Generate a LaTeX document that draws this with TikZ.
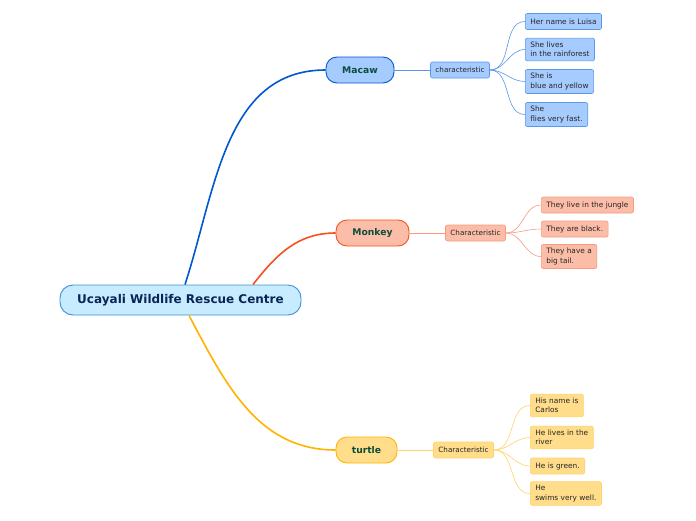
\documentclass[tikz,border=0pt]{standalone}
\usepackage{fontspec}
\setmainfont{DejaVu Sans}

\definecolor{rootfill}{HTML}{C8ECFF}
\definecolor{rootline}{HTML}{3D8FD6}
\definecolor{roottext}{HTML}{0A2456}
\definecolor{topictext}{HTML}{0B4D3C}
\definecolor{bluefill}{HTML}{A6CBFF}
\definecolor{blueline}{HTML}{0057D0}
\definecolor{bluethin}{HTML}{5A97E6}
\definecolor{redfill}{HTML}{FBBDA8}
\definecolor{redline}{HTML}{F4511E}
\definecolor{redthin}{HTML}{F79A80}
\definecolor{yelfill}{HTML}{FFDD8A}
\definecolor{yelline}{HTML}{FFB300}
\definecolor{yelthin}{HTML}{FFD36A}

\begin{document}
\begin{tikzpicture}[x=1pt,y=-1pt,
	root/.style={draw=rootline,fill=rootfill,text=roottext,line width=0.9pt,rounded corners=13pt,
		minimum width=241pt,minimum height=30pt,font=\fontsize{12}{14}\selectfont\bfseries},
	topic/.style={line width=0.9pt,rounded corners=11pt,minimum height=26pt,text=topictext,
		font=\fontsize{9.2}{11}\selectfont\bfseries},
	sub/.style={line width=0.6pt,rounded corners=2pt,minimum height=16pt,inner xsep=5pt,
		font=\fontsize{7.2}{9}\selectfont,text=black!85},
	leaf/.style={sub,anchor=west,align=left,inner ysep=3.8pt,font=\fontsize{7.4}{9.3}\selectfont},
	branch/.style={line width=1.6pt},
	twig/.style={line width=0.6pt}]
	\useasboundingbox (0,0) rectangle (696,520);

	\node[root] (centre) at (180.5,300) {Ucayali Wildlife Rescue Centre};

	% macaw
	\node[topic,draw=blueline,fill=bluefill,minimum width=68pt] (macaw) at (360,70) {Macaw};
	\node[sub,draw=bluethin,fill=bluefill] (macawc) at (460,70) {characteristic};
	\node[leaf,draw=bluethin,fill=bluefill] (m1) at (525,21.5) {Her name is Luisa};
	\node[leaf,draw=bluethin,fill=bluefill] (m2) at (525,49.5) {She lives\\in the rainforest};
	\node[leaf,draw=bluethin,fill=bluefill] (m3) at (525,81.5) {She is\\blue and yellow};
	\node[leaf,draw=bluethin,fill=bluefill] (m4) at (525,114.5) {She\\flies very fast.};

	% monkey
	\node[topic,draw=redline,fill=redfill,minimum width=73pt] (monkey) at (372.5,233) {Monkey};
	\node[sub,draw=redthin,fill=redfill] (monkeyc) at (475.5,233) {Characteristic};
	\node[leaf,draw=redthin,fill=redfill] (k1) at (541,205) {They live in the jungle};
	\node[leaf,draw=redthin,fill=redfill] (k2) at (541,229) {They are black.};
	\node[leaf,draw=redthin,fill=redfill] (k3) at (541,256.5) {They have a\\big tail.};

	% turtle
	\node[topic,draw=yelline,fill=yelfill,minimum width=61pt] (turtle) at (366.5,450) {turtle};
	\node[sub,draw=yelthin,fill=yelfill] (turtlec) at (463.5,450) {Characteristic};
	\node[leaf,draw=yelthin,fill=yelfill] (t1) at (530,405.5) {His name is\\Carlos};
	\node[leaf,draw=yelthin,fill=yelfill] (t2) at (530,437.5) {He lives in the\\river};
	\node[leaf,draw=yelthin,fill=yelfill] (t3) at (530,466) {He is green.};
	\node[leaf,draw=yelthin,fill=yelfill] (t4) at (530,493.5) {He\\swims very well.};

	% main branches
	\draw[branch,blueline] ([xshift=4.5pt]centre.north) to[out=72,in=180] (macaw.west);
	\draw[branch,redline] ([xshift=72.5pt]centre.north) to[out=52,in=180] (monkey.west);
	\draw[branch,yelline] ([xshift=8.5pt]centre.south) to[out=-62,in=180] (turtle.west);

	% twigs
	\draw[twig,bluethin] (macaw) -- (macawc);
	\foreach \n in {m1,m2,m3,m4}
		\draw[twig,bluethin] (macawc.east) to[out=0,in=180] (\n.west);
	\draw[twig,redthin] (monkey) -- (monkeyc);
	\foreach \n in {k1,k2,k3}
		\draw[twig,redthin] (monkeyc.east) to[out=0,in=180] (\n.west);
	\draw[twig,yelthin] (turtle) -- (turtlec);
	\foreach \n in {t1,t2,t3,t4}
		\draw[twig,yelthin] (turtlec.east) to[out=0,in=180] (\n.west);
\end{tikzpicture}
\end{document}
